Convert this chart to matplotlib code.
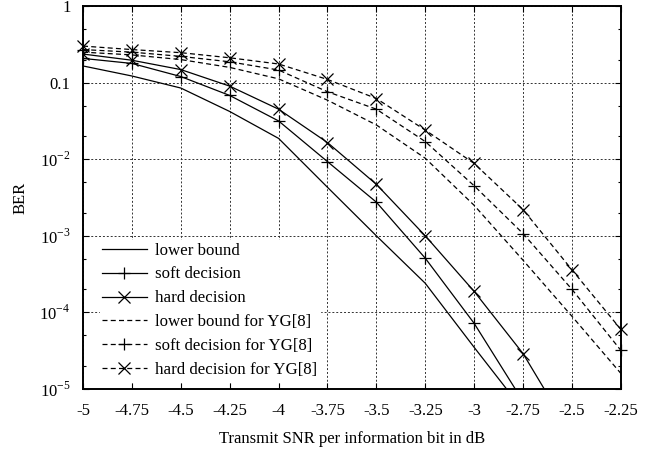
import matplotlib
matplotlib.use("Agg")
import matplotlib.pyplot as plt
from matplotlib.ticker import LogLocator, FixedLocator, NullFormatter

plt.rcParams['font.family'] = ['Liberation Serif', 'DejaVu Serif']
plt.rcParams['mathtext.fontset'] = 'custom'
plt.rcParams['mathtext.rm'] = 'Liberation Serif'
plt.rcParams['axes.unicode_minus'] = False

# transmit SNR per information bit (dB)
snr = [-5, -4.75, -4.5, -4.25, -4, -3.75, -3.5, -3.25, -3, -2.75, -2.5, -2.25]

# proposed scheme
lower_bound = [0.165, 0.122, 0.085, 0.042, 0.0187, 0.0043, 1.0e-3, 2.4e-4, 3.5e-5, 5.3e-6]
soft_dec = [0.207, 0.178, 0.12, 0.068, 0.0316, 0.0093, 2.75e-3, 5.1e-4, 7.2e-5, 6.9e-6]
hard_dec = [0.236, 0.196, 0.148, 0.09, 0.045, 0.0165, 4.7e-3, 1.0e-3, 1.88e-4, 2.9e-5, 2.5e-6]

# YG[8]
yg_lower = [0.25, 0.23, 0.2, 0.158, 0.112, 0.059, 0.028, 0.0103, 2.5e-3, 4.8e-4, 8.9e-5, 1.6e-5]
yg_soft = [0.27, 0.25, 0.22, 0.187, 0.146, 0.076, 0.045, 0.017, 4.5e-3, 1.07e-3, 2.0e-4, 3.2e-5]
yg_hard = [0.30, 0.27, 0.246, 0.211, 0.175, 0.11, 0.062, 0.024, 8.8e-3, 2.2e-3, 3.6e-4, 6.0e-5]

fig = plt.figure(figsize=(6.64, 4.49), dpi=100)
ax = fig.add_axes([0.125, 0.1336, 0.81, 0.853])

lw = 0.9
ms = 9
dash = (4, 2.6)

ax.semilogy(snr[:len(lower_bound)], lower_bound, 'k-', lw=lw, label='lower bound')
ax.semilogy(snr[:len(soft_dec)], soft_dec, 'k-', marker='+', ms=ms, mew=lw, lw=lw, label='soft decision')
ax.semilogy(snr[:len(hard_dec)], hard_dec, 'k-', marker='x', ms=ms, mew=lw, lw=lw, label='hard decision')
ax.semilogy(snr, yg_lower, 'k--', dashes=dash, lw=lw, clip_on=False, label='lower bound for YG[8]')
ax.semilogy(snr, yg_soft, 'k--', dashes=dash, marker='+', ms=ms, mew=lw, lw=lw, clip_on=False,
            label='soft decision for YG[8]')
ax.semilogy(snr, yg_hard, 'k--', dashes=dash, marker='x', ms=ms, mew=lw, lw=lw, clip_on=False,
            label='hard decision for YG[8]')

ax.set_xlim(-5, -2.25)
ax.set_ylim(1e-5, 1)
ax.xaxis.set_major_locator(FixedLocator(snr))
ax.set_xticklabels([('%g' % v) for v in snr])
ax.set_yticks([1e-5, 1e-4, 1e-3, 1e-2, 0.1, 1])
ax.set_yticklabels(['$10^{-5}$', '$10^{-4}$', '$10^{-3}$', '$10^{-2}$', '0.1', '1'])
ax.yaxis.set_minor_locator(LogLocator(base=10, subs=(2, 5)))
ax.yaxis.set_minor_formatter(NullFormatter())

ax.tick_params(which='both', direction='in', top=True, right=True, labelsize=12)
ax.tick_params(axis='x', pad=10)
ax.tick_params(axis='y', pad=9)
ax.tick_params(which='major', length=4, width=0.8)
ax.tick_params(which='minor', length=2.5, width=0.8)
for s in ax.spines.values():
    s.set_linewidth(1.4)

ax.grid(True, which='major', linestyle=(0, (2, 2)), color='#333333', lw=0.7)

ax.set_xlabel('Transmit SNR per information bit in dB', fontsize=12, labelpad=9)
ax.set_ylabel('BER', fontsize=12, labelpad=8)

leg = ax.legend(loc='lower left', bbox_to_anchor=(0.022, 0.008), fontsize=12.2, handlelength=2.6,
                handletextpad=0.5, labelspacing=0.47, borderpad=0.15, borderaxespad=0.3,
                fancybox=False)
leg.get_frame().set_edgecolor('white')
leg.get_frame().set_alpha(1)

fig.savefig('out.png', dpi=100)
